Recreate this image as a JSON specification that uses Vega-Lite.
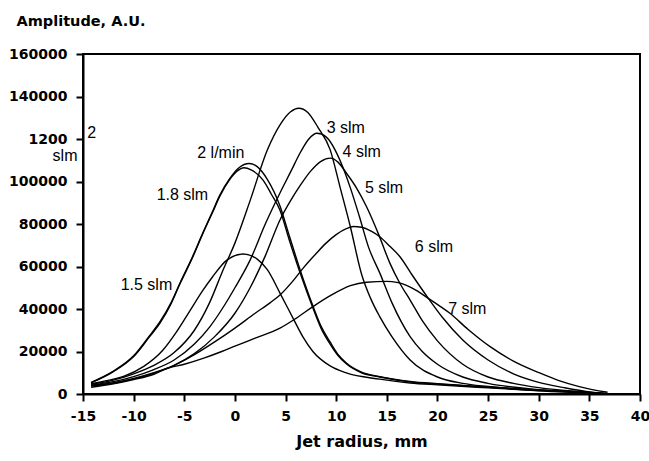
{
  "$schema": "https://vega.github.io/schema/vega-lite/v6.json",
  "width": 557,
  "height": 340,
  "autosize": {"type": "none"},
  "padding": {"left": 83, "top": 54, "right": 9, "bottom": 67},
  "background": "white",
  "config": {"view": {"stroke": "black", "strokeWidth": 2}, "font": "DejaVu Sans"},
  "datasets": {
    "curves": [
      {"s": "1.5 slm", "x": -14.2, "y": 4800}, {"s": "1.5 slm", "x": -12, "y": 7000}, {"s": "1.5 slm", "x": -11, "y": 8300}, {"s": "1.5 slm", "x": -9, "y": 13000}, {"s": "1.5 slm", "x": -7.1, "y": 20700}, {"s": "1.5 slm", "x": -5.8, "y": 29000}, {"s": "1.5 slm", "x": -4.4, "y": 39500}, {"s": "1.5 slm", "x": -3.2, "y": 48500}, {"s": "1.5 slm", "x": -2.2, "y": 55200}, {"s": "1.5 slm", "x": -0.8, "y": 63000}, {"s": "1.5 slm", "x": 0.8, "y": 65900}, {"s": "1.5 slm", "x": 2.2, "y": 63500}, {"s": "1.5 slm", "x": 3.2, "y": 58500}, {"s": "1.5 slm", "x": 4.45, "y": 47500}, {"s": "1.5 slm", "x": 5.76, "y": 35500}, {"s": "1.5 slm", "x": 6.7, "y": 27000}, {"s": "1.5 slm", "x": 7.7, "y": 20000}, {"s": "1.5 slm", "x": 9.4, "y": 13200}, {"s": "1.5 slm", "x": 11, "y": 9900}, {"s": "1.5 slm", "x": 14.3, "y": 7000}, {"s": "1.5 slm", "x": 17.3, "y": 5200}, {"s": "1.5 slm", "x": 20, "y": 4300}, {"s": "1.5 slm", "x": 25, "y": 2900}, {"s": "1.5 slm", "x": 30, "y": 1600}, {"s": "1.5 slm", "x": 35, "y": 500}, {"s": "1.5 slm", "x": 36.8, "y": 0},
      {"s": "1.8 slm", "x": -14.2, "y": 5200}, {"s": "1.8 slm", "x": -12, "y": 10500}, {"s": "1.8 slm", "x": -10, "y": 17600}, {"s": "1.8 slm", "x": -8.5, "y": 26500}, {"s": "1.8 slm", "x": -7.4, "y": 33300}, {"s": "1.8 slm", "x": -6.3, "y": 42500}, {"s": "1.8 slm", "x": -5.4, "y": 52100}, {"s": "1.8 slm", "x": -4.2, "y": 64000}, {"s": "1.8 slm", "x": -3.15, "y": 75700}, {"s": "1.8 slm", "x": -2.2, "y": 85500}, {"s": "1.8 slm", "x": -1.5, "y": 93000}, {"s": "1.8 slm", "x": -0.5, "y": 101000}, {"s": "1.8 slm", "x": 0.2, "y": 104800}, {"s": "1.8 slm", "x": 0.9, "y": 106500}, {"s": "1.8 slm", "x": 1.6, "y": 105500}, {"s": "1.8 slm", "x": 2.8, "y": 100500}, {"s": "1.8 slm", "x": 3.6, "y": 94000}, {"s": "1.8 slm", "x": 4.45, "y": 86500}, {"s": "1.8 slm", "x": 5.4, "y": 72000}, {"s": "1.8 slm", "x": 6.4, "y": 57500}, {"s": "1.8 slm", "x": 7.7, "y": 40500}, {"s": "1.8 slm", "x": 8.5, "y": 31000}, {"s": "1.8 slm", "x": 9.4, "y": 23500}, {"s": "1.8 slm", "x": 10.2, "y": 18000}, {"s": "1.8 slm", "x": 11, "y": 14200}, {"s": "1.8 slm", "x": 12.5, "y": 10000}, {"s": "1.8 slm", "x": 14.3, "y": 8000}, {"s": "1.8 slm", "x": 17.3, "y": 5700}, {"s": "1.8 slm", "x": 20, "y": 4700}, {"s": "1.8 slm", "x": 25, "y": 3200}, {"s": "1.8 slm", "x": 30, "y": 1800}, {"s": "1.8 slm", "x": 35, "y": 600}, {"s": "1.8 slm", "x": 36.8, "y": 100},
      {"s": "2 l/min", "x": -14.2, "y": 5500}, {"s": "2 l/min", "x": -12, "y": 10800}, {"s": "2 l/min", "x": -10, "y": 18000}, {"s": "2 l/min", "x": -8.5, "y": 27000}, {"s": "2 l/min", "x": -7.4, "y": 34000}, {"s": "2 l/min", "x": -6.3, "y": 43000}, {"s": "2 l/min", "x": -5.4, "y": 52500}, {"s": "2 l/min", "x": -4.2, "y": 64500}, {"s": "2 l/min", "x": -3.15, "y": 76000}, {"s": "2 l/min", "x": -2.2, "y": 86000}, {"s": "2 l/min", "x": -1.5, "y": 93500}, {"s": "2 l/min", "x": -0.5, "y": 101500}, {"s": "2 l/min", "x": 0.4, "y": 106500}, {"s": "2 l/min", "x": 1.4, "y": 108500}, {"s": "2 l/min", "x": 2.2, "y": 107000}, {"s": "2 l/min", "x": 3.2, "y": 101000}, {"s": "2 l/min", "x": 4.45, "y": 88500}, {"s": "2 l/min", "x": 5.4, "y": 74000}, {"s": "2 l/min", "x": 6.4, "y": 59000}, {"s": "2 l/min", "x": 7.7, "y": 41500}, {"s": "2 l/min", "x": 8.5, "y": 32000}, {"s": "2 l/min", "x": 9.4, "y": 24500}, {"s": "2 l/min", "x": 10.2, "y": 18500}, {"s": "2 l/min", "x": 11, "y": 14600}, {"s": "2 l/min", "x": 12.5, "y": 10300}, {"s": "2 l/min", "x": 14.3, "y": 8200}, {"s": "2 l/min", "x": 17.3, "y": 5900}, {"s": "2 l/min", "x": 20, "y": 4800}, {"s": "2 l/min", "x": 25, "y": 3300}, {"s": "2 l/min", "x": 30, "y": 1900}, {"s": "2 l/min", "x": 35, "y": 700}, {"s": "2 l/min", "x": 36.8, "y": 150},
      {"s": "3 slm", "x": -14.2, "y": 4500}, {"s": "3 slm", "x": -12, "y": 6500}, {"s": "3 slm", "x": -10, "y": 9500}, {"s": "3 slm", "x": -8, "y": 13500}, {"s": "3 slm", "x": -6, "y": 19500}, {"s": "3 slm", "x": -4, "y": 30000}, {"s": "3 slm", "x": -2.5, "y": 43000}, {"s": "3 slm", "x": -1.2, "y": 58000}, {"s": "3 slm", "x": 0, "y": 71000}, {"s": "3 slm", "x": 1.5, "y": 91000}, {"s": "3 slm", "x": 3.2, "y": 114800}, {"s": "3 slm", "x": 4.5, "y": 127000}, {"s": "3 slm", "x": 5.5, "y": 132800}, {"s": "3 slm", "x": 6.3, "y": 134500}, {"s": "3 slm", "x": 7.2, "y": 132500}, {"s": "3 slm", "x": 8.2, "y": 125500}, {"s": "3 slm", "x": 9.4, "y": 115000}, {"s": "3 slm", "x": 10.4, "y": 97000}, {"s": "3 slm", "x": 11.4, "y": 78700}, {"s": "3 slm", "x": 12.5, "y": 56500}, {"s": "3 slm", "x": 13.4, "y": 45000}, {"s": "3 slm", "x": 14.3, "y": 36400}, {"s": "3 slm", "x": 15.5, "y": 27000}, {"s": "3 slm", "x": 17.3, "y": 16000}, {"s": "3 slm", "x": 20, "y": 8000}, {"s": "3 slm", "x": 22.5, "y": 5000}, {"s": "3 slm", "x": 25, "y": 3500}, {"s": "3 slm", "x": 30, "y": 1500}, {"s": "3 slm", "x": 35, "y": 500}, {"s": "3 slm", "x": 36.8, "y": 50},
      {"s": "4 slm", "x": -14.2, "y": 4200}, {"s": "4 slm", "x": -12, "y": 5800}, {"s": "4 slm", "x": -10, "y": 8200}, {"s": "4 slm", "x": -8, "y": 11500}, {"s": "4 slm", "x": -6, "y": 16000}, {"s": "4 slm", "x": -4, "y": 23500}, {"s": "4 slm", "x": -2.5, "y": 31500}, {"s": "4 slm", "x": -1, "y": 42000}, {"s": "4 slm", "x": 0, "y": 50000}, {"s": "4 slm", "x": 1.5, "y": 63000}, {"s": "4 slm", "x": 3, "y": 80000}, {"s": "4 slm", "x": 4.45, "y": 94600}, {"s": "4 slm", "x": 5.5, "y": 104500}, {"s": "4 slm", "x": 6.5, "y": 114000}, {"s": "4 slm", "x": 7.3, "y": 120000}, {"s": "4 slm", "x": 8.1, "y": 122700}, {"s": "4 slm", "x": 9, "y": 121000}, {"s": "4 slm", "x": 10.5, "y": 108600}, {"s": "4 slm", "x": 11.4, "y": 97000}, {"s": "4 slm", "x": 12.3, "y": 83400}, {"s": "4 slm", "x": 13.2, "y": 69000}, {"s": "4 slm", "x": 14.3, "y": 57000}, {"s": "4 slm", "x": 15.5, "y": 43000}, {"s": "4 slm", "x": 17.3, "y": 27000}, {"s": "4 slm", "x": 18.5, "y": 20000}, {"s": "4 slm", "x": 20, "y": 14000}, {"s": "4 slm", "x": 22.5, "y": 8000}, {"s": "4 slm", "x": 25, "y": 5000}, {"s": "4 slm", "x": 30, "y": 2000}, {"s": "4 slm", "x": 35, "y": 600}, {"s": "4 slm", "x": 36.8, "y": 80},
      {"s": "5 slm", "x": -14.2, "y": 4000}, {"s": "5 slm", "x": -12, "y": 5300}, {"s": "5 slm", "x": -10, "y": 7300}, {"s": "5 slm", "x": -8, "y": 10000}, {"s": "5 slm", "x": -6, "y": 13500}, {"s": "5 slm", "x": -4, "y": 19000}, {"s": "5 slm", "x": -2, "y": 27000}, {"s": "5 slm", "x": 0, "y": 38000}, {"s": "5 slm", "x": 1.5, "y": 50000}, {"s": "5 slm", "x": 3, "y": 65000}, {"s": "5 slm", "x": 4.45, "y": 81900}, {"s": "5 slm", "x": 5.5, "y": 91000}, {"s": "5 slm", "x": 6.5, "y": 98500}, {"s": "5 slm", "x": 7.5, "y": 105000}, {"s": "5 slm", "x": 8.5, "y": 109500}, {"s": "5 slm", "x": 9.4, "y": 111000}, {"s": "5 slm", "x": 10.2, "y": 109000}, {"s": "5 slm", "x": 11, "y": 104000}, {"s": "5 slm", "x": 12, "y": 97000}, {"s": "5 slm", "x": 13, "y": 88100}, {"s": "5 slm", "x": 14.2, "y": 75000}, {"s": "5 slm", "x": 15.3, "y": 61600}, {"s": "5 slm", "x": 16.3, "y": 52000}, {"s": "5 slm", "x": 17.3, "y": 44200}, {"s": "5 slm", "x": 18.5, "y": 34500}, {"s": "5 slm", "x": 20, "y": 25000}, {"s": "5 slm", "x": 22.5, "y": 14000}, {"s": "5 slm", "x": 25, "y": 8000}, {"s": "5 slm", "x": 27.5, "y": 5000}, {"s": "5 slm", "x": 30, "y": 3000}, {"s": "5 slm", "x": 35, "y": 800}, {"s": "5 slm", "x": 36.8, "y": 100},
      {"s": "6 slm", "x": -14.2, "y": 3700}, {"s": "6 slm", "x": -12, "y": 5000}, {"s": "6 slm", "x": -10, "y": 7000}, {"s": "6 slm", "x": -8, "y": 9800}, {"s": "6 slm", "x": -6, "y": 13500}, {"s": "6 slm", "x": -4, "y": 18500}, {"s": "6 slm", "x": -2, "y": 24500}, {"s": "6 slm", "x": 0, "y": 31000}, {"s": "6 slm", "x": 2, "y": 38000}, {"s": "6 slm", "x": 3.5, "y": 43000}, {"s": "6 slm", "x": 4.45, "y": 46600}, {"s": "6 slm", "x": 5.8, "y": 53600}, {"s": "6 slm", "x": 6.7, "y": 59000}, {"s": "6 slm", "x": 8, "y": 66000}, {"s": "6 slm", "x": 9, "y": 71000}, {"s": "6 slm", "x": 10, "y": 75000}, {"s": "6 slm", "x": 11, "y": 77800}, {"s": "6 slm", "x": 11.7, "y": 78800}, {"s": "6 slm", "x": 12.5, "y": 78500}, {"s": "6 slm", "x": 13.5, "y": 76500}, {"s": "6 slm", "x": 14.3, "y": 74000}, {"s": "6 slm", "x": 15.3, "y": 69500}, {"s": "6 slm", "x": 16.3, "y": 64600}, {"s": "6 slm", "x": 17.5, "y": 56000}, {"s": "6 slm", "x": 19.1, "y": 45000}, {"s": "6 slm", "x": 20.5, "y": 36000}, {"s": "6 slm", "x": 22.5, "y": 25400}, {"s": "6 slm", "x": 25, "y": 16000}, {"s": "6 slm", "x": 27.5, "y": 9500}, {"s": "6 slm", "x": 30, "y": 5500}, {"s": "6 slm", "x": 32.5, "y": 3000}, {"s": "6 slm", "x": 35, "y": 1000}, {"s": "6 slm", "x": 36.8, "y": 200},
      {"s": "7 slm", "x": -14.2, "y": 3200}, {"s": "7 slm", "x": -12, "y": 4800}, {"s": "7 slm", "x": -10, "y": 6800}, {"s": "7 slm", "x": -8, "y": 9300}, {"s": "7 slm", "x": -6.7, "y": 12000}, {"s": "7 slm", "x": -5, "y": 14000}, {"s": "7 slm", "x": -3, "y": 17000}, {"s": "7 slm", "x": -1.3, "y": 20000}, {"s": "7 slm", "x": 0, "y": 22500}, {"s": "7 slm", "x": 2, "y": 26300}, {"s": "7 slm", "x": 4.45, "y": 31000}, {"s": "7 slm", "x": 6, "y": 35500}, {"s": "7 slm", "x": 7.7, "y": 41100}, {"s": "7 slm", "x": 9.5, "y": 46500}, {"s": "7 slm", "x": 11.4, "y": 51000}, {"s": "7 slm", "x": 13, "y": 52600}, {"s": "7 slm", "x": 15, "y": 53000}, {"s": "7 slm", "x": 16, "y": 52500}, {"s": "7 slm", "x": 17, "y": 51000}, {"s": "7 slm", "x": 18, "y": 48500}, {"s": "7 slm", "x": 19.1, "y": 45000}, {"s": "7 slm", "x": 20.2, "y": 41500}, {"s": "7 slm", "x": 21.2, "y": 38100}, {"s": "7 slm", "x": 23, "y": 30500}, {"s": "7 slm", "x": 25.2, "y": 22300}, {"s": "7 slm", "x": 27.5, "y": 15500}, {"s": "7 slm", "x": 30.1, "y": 9900}, {"s": "7 slm", "x": 32, "y": 6300}, {"s": "7 slm", "x": 34, "y": 3500}, {"s": "7 slm", "x": 36.8, "y": 800}
    ],
    "labels": [
      {"label": "3 slm", "x": 9.06, "y": 125000},
      {"label": "4 slm", "x": 10.63, "y": 114000},
      {"label": "5 slm", "x": 12.84, "y": 96800},
      {"label": "6 slm", "x": 17.77, "y": 69300},
      {"label": "7 slm", "x": 21.06, "y": 40000},
      {"label": "2 l/min", "x": -3.72, "y": 113300},
      {"label": "1.8 slm", "x": -7.73, "y": 93650},
      {"label": "1.5 slm", "x": -11.28, "y": 51300},
      {"label": "2", "x": -14.57, "y": 122700},
      {"label": "slm", "x": -18.0, "y": 111800}
    ]
  },
  "layer": [
    {
      "data": {"name": "curves"},
      "mark": {"type": "line", "color": "black", "strokeWidth": 1.4, "interpolate": "monotone"},
      "encoding": {
        "x": {
          "field": "x", "type": "quantitative",
          "scale": {"domain": [-15, 40], "nice": false, "zero": false},
          "axis": {
            "title": "Jet radius, mm",
            "values": [-15, -10, -5, 0, 5, 10, 15, 20, 25, 30, 35, 40],
            "labelExpr": "toString(datum.value)",
            "grid": false, "labelFlush": false, "labelOverlap": false,
            "domainColor": "black", "domainWidth": 2,
            "tickColor": "black", "tickWidth": 2, "tickSize": 7,
            "labelFont": "DejaVu Sans", "labelFontWeight": "bold", "labelFontSize": 14, "labelColor": "black", "labelPadding": 8,
            "titleFont": "DejaVu Sans", "titleFontWeight": "bold", "titleFontSize": 16, "titleColor": "black",
            "titleBaseline": "alphabetic", "titleY": 52
          }
        },
        "y": {
          "field": "y", "type": "quantitative",
          "scale": {"domain": [0, 160000], "nice": false},
          "axis": {
            "title": "Amplitude, A.U.",
            "values": [0, 20000, 40000, 60000, 80000, 100000, 120000, 140000, 160000],
            "format": "d",
            "labelExpr": "datum.value == 120000 ? '1200\u2007\u2007' : datum.label",
            "grid": false, "labelOverlap": false,
            "domainColor": "black", "domainWidth": 2,
            "tickColor": "black", "tickWidth": 2, "tickSize": 7,
            "labelFont": "DejaVu Sans", "labelFontWeight": "bold", "labelFontSize": 14, "labelColor": "black", "labelPadding": 9,
            "titleFont": "DejaVu Sans", "titleFontWeight": "bold", "titleFontSize": 14.5, "titleColor": "black",
            "titleAngle": 0, "titleAlign": "left", "titleBaseline": "alphabetic", "titleX": -67, "titleY": -29
          }
        },
        "detail": {"field": "s", "type": "nominal"}
      }
    },
    {
      "data": {"name": "labels"},
      "mark": {"type": "text", "align": "left", "baseline": "middle", "font": "Liberation Sans", "fontSize": 16, "color": "black", "clip": false},
      "encoding": {
        "x": {"field": "x", "type": "quantitative"},
        "y": {"field": "y", "type": "quantitative"},
        "text": {"field": "label", "type": "nominal"}
      }
    }
  ]
}
